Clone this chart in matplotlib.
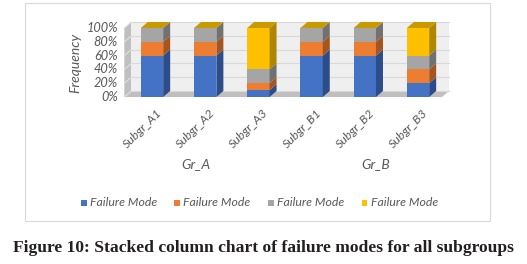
import matplotlib
matplotlib.use("Agg")
import matplotlib.pyplot as plt
from matplotlib.patches import Polygon, Rectangle
import numpy as np

categories = ["Subgr_A1", "Subgr_A2", "Subgr_A3", "Subgr_B1", "Subgr_B2", "Subgr_B3"]
groups = ["Gr_A", "Gr_B"]
series_names = ["Failure Mode", "Failure Mode", "Failure Mode", "Failure Mode"]
mode1 = [60, 60, 10, 60, 60, 20]
mode2 = [20, 20, 10, 20, 20, 20]
mode3 = [20, 20, 20, 20, 20, 20]
mode4 = [0, 0, 60, 0, 0, 40]
yticks = [0, 20, 40, 60, 80, 100]
ytick_labels = ["0%", "20%", "40%", "60%", "80%", "100%"]

front = ["#4472C4", "#ED7D31", "#A5A5A5", "#FFC000"]
side = ["#2C4D8A", "#A5551F", "#717171", "#B08500"]
top = ["#3A63AD", "#CF6B28", "#8E8E8E", "#C99A00"]
txt = "#595959"

W, H = 527, 264
fig = plt.figure(figsize=(W / 100, H / 100), dpi=100)

# chart border
fig.add_artist(Rectangle((25 / W, 1 - 221 / H), 465 / W, 218 / H, transform=fig.transFigure,
                         fill=False, edgecolor="#D9D9D9", lw=0.8))

# axes geometry in pixels
px_per_cat = 53.2
x0_px = 152  # center of category 0
xl, xr = -0.5, 5.55
ylo, yhi = -2, 110
py0 = 97  # pixel y of 0%
py_per = 0.69
ax_left = x0_px + xl * px_per_cat
ax_right = x0_px + xr * px_per_cat
ax_bot = py0 - ylo * py_per
ax_top = py0 - yhi * py_per
ax = fig.add_axes([ax_left / W, 1 - ax_bot / H, (ax_right - ax_left) / W, (ax_bot - ax_top) / H])
ax.set_xlim(xl, xr)
ax.set_ylim(ylo, yhi)
ax.axis("off")

dx = 7 / px_per_cat
dy = 6 / py_per
wl, wr = -0.52, 5.45

# left wall
ax.add_patch(Polygon([(wl, 0), (wl + dx, dy), (wl + dx, 100 + dy), (wl, 100)], closed=True,
                     facecolor="#BFBFBF", edgecolor="none", clip_on=False, zorder=1))
# back wall
ax.add_patch(Rectangle((wl + dx, dy), wr - wl, 100, facecolor="#EFEFEF", edgecolor="none",
                       clip_on=False, zorder=1))
# floor
ax.add_patch(Polygon([(wl, 0), (wr, 0), (wr + dx, dy), (wl + dx, dy)], closed=True,
                     facecolor="#BFBFBF", edgecolor="none", clip_on=False, zorder=1))
for t in yticks:
    ax.plot([wl + dx, wr + dx], [t + dy, t + dy], color="#D9D9D9", lw=0.8, zorder=2, clip_on=False)
    ax.plot([wl, wl + dx], [t, t + dy], color="#E0E0E0", lw=0.8, zorder=2, clip_on=False)
    ax.text(wl - 0.12, t, ytick_labels[yticks.index(t)], ha="right", va="center",
            fontsize=9.2, style="italic", color=txt, family="Lato")

ax.text(-1.45, 50, "Frequency", rotation=90, ha="center", va="center", fontsize=10,
        style="italic", color=txt, family="Lato")

bw = 0.42
series = [mode1, mode2, mode3, mode4]
for i in range(len(categories)):
    bottom = 0
    x1 = i - bw / 2
    x2 = i + bw / 2
    for s in range(4):
        v = series[s][i]
        b, t_ = bottom, bottom + v
        ax.add_patch(Rectangle((x1, b), bw, v, facecolor=front[s], edgecolor="none", zorder=5, clip_on=False))
        ax.add_patch(Polygon([(x2, b), (x2 + dx, b + dy), (x2 + dx, t_ + dy), (x2, t_)], closed=True,
                             facecolor=side[s], edgecolor="none", zorder=5, clip_on=False))
        bottom = t_
    # top cap uses top series colour
    ax.add_patch(Polygon([(x1, bottom), (x2, bottom), (x2 + dx, bottom + dy), (x1 + dx, bottom + dy)],
                         closed=True, facecolor=top[3], edgecolor="none", zorder=6, clip_on=False))
    ax.text(i + 0.08, -15, categories[i], rotation=45, ha="right", va="top", fontsize=8.8,
            style="italic", color=txt, family="Lato", rotation_mode="anchor")

ax.text(0.83, -97, groups[0], ha="center", va="center", fontsize=10, style="italic", color=txt, family="Lato")
ax.text(4.2, -97, groups[1], ha="center", va="center", fontsize=10, style="italic", color=txt, family="Lato")

# legend
leg_x = [81, 174, 268, 362]
for s in range(4):
    fig.add_artist(Rectangle((leg_x[s] / W, 1 - 205.5 / H), 5.5 / W, 5.5 / H, transform=fig.transFigure,
                             facecolor=front[s], edgecolor="none"))
    fig.text((leg_x[s] + 9) / W, 1 - 202.5 / H, series_names[s], ha="left", va="center", fontsize=8.8,
             style="italic", color=txt, family="Lato")

fig.text(0.5, 1 - 248 / H, "Figure 10: Stacked column chart of failure modes for all subgroups",
         ha="center", va="center", fontsize=12.6, fontweight="bold", family="Liberation Serif",
         color="#231F20")

fig.savefig("out.png", dpi=100)
